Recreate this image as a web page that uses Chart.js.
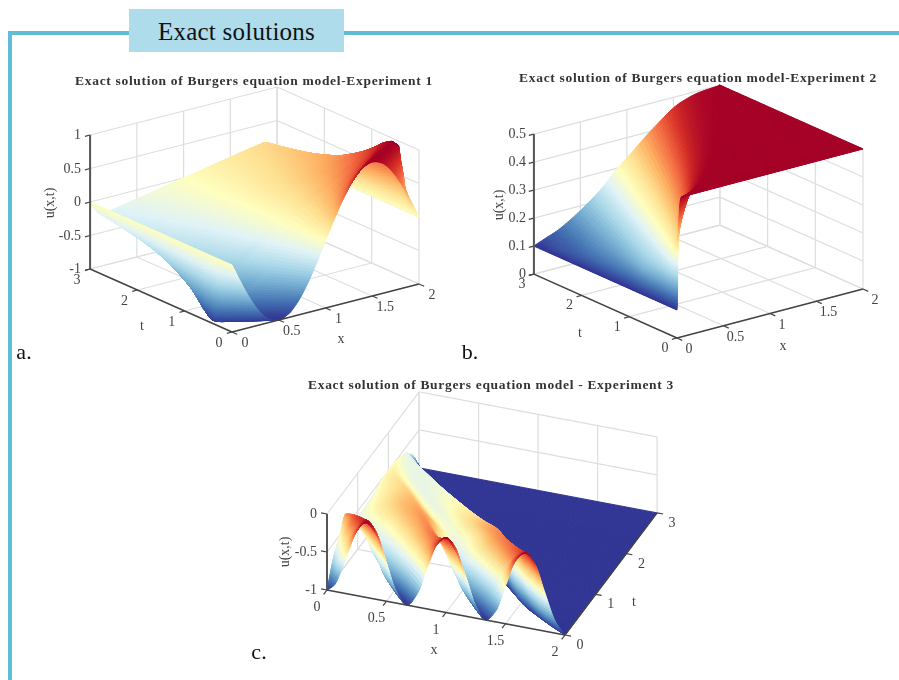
<!DOCTYPE html>
<html><head><meta charset="utf-8">
<script src="https://cdn.jsdelivr.net/npm/chart.js@4"></script>
<style>
html,body{margin:0;padding:0;background:#fff;width:899px;height:680px;overflow:hidden}
#wrap{position:relative;width:899px;height:680px;font-family:"Liberation Serif",serif}
canvas{position:absolute;left:0;top:0;filter:blur(.35px)}
.bar{position:absolute;background:#5fbdd8}
#head{position:absolute;left:129px;top:9px;width:215px;height:43px;background:#aedcea;color:#111;font-size:25px;line-height:46px;text-align:center;letter-spacing:.25px}
.t{position:absolute;white-space:nowrap;color:#444;font-size:14px;transform:translate(-50%,-50%)}
.r{transform:translate(-100%,-50%)}
.ttl{font-weight:bold;color:#333;font-size:13.5px;letter-spacing:.68px}
.pl{color:#111;font-size:22px}
.rot{transform:translate(-50%,-50%) rotate(-90deg)}
</style></head><body>
<div id="wrap">
<div class="bar" style="left:8px;top:31px;width:121px;height:4px"></div>
<div class="bar" style="left:344px;top:31px;width:555px;height:4px"></div>
<div class="bar" style="left:8px;top:31px;width:4px;height:649px"></div>
<div id="head">Exact solutions</div>
<canvas id="c" width="899" height="680"></canvas>
</div>
<script>
// ---------- tick labels ----------
const xTicks=[0,0.5,1,1.5,2];
const tTicks=[0,1,2,3];
const zTicksA=[-1,-0.5,0,0.5,1];
const zTicksB=[0,0.1,0.2,0.3,0.4,0.5];
const zTicksC=[-1,-0.5,0];
const titles=["Exact solution of Burgers equation model-Experiment 1","Exact solution of Burgers equation model-Experiment 2","Exact solution of Burgers equation model - Experiment 3"];
// ---------- colour ramp ----------
const ramp=["#313695","#4575b4","#74add1","#abd9e9","#e0f3f8","#ffffbf","#fee090","#fdae61","#f46d43","#d73027","#a50026"];

// ---------- Experiment 1: surface rows ----------
const aT=[0,0.1,0.2,0.3,0.4,0.5,0.65,0.8,1,1.25,1.5,2,2.5,3];
const aX=[
[0,.1,.2,.3,.4,.5,.6,.7,.8,.9,1,1.1,1.2,1.3,1.4,1.5,1.6,1.7,1.8,1.9,2],
[0,.069,.141,.219,.305,.4,.505,.619,.741,.869,1,1.131,1.259,1.381,1.495,1.6,1.695,1.781,1.859,1.931,2],
[0,.038,.082,.138,.21,.3,.41,.538,.682,.838,1,1.162,1.318,1.462,1.59,1.7,1.79,1.862,1.918,1.962,2],
[0,.007,.024,.057,.115,.2,.315,.457,.624,.807,1,1.193,1.376,1.543,1.685,1.8,1.885,1.943,1.976,1.993,2],
[0,.004,.008,.012,.02,.1,.22,.376,.565,.776,1,1.224,1.435,1.624,1.78,1.9,1.98,1.988,1.992,1.996,2],
[0,.006,.012,.018,.024,.04,.125,.295,.506,.745,1,1.255,1.494,1.705,1.875,1.96,1.976,1.982,1.988,1.994,2],
[0,.012,.025,.037,.045,.05,.174,.418,.56,.70,1,1.30,1.44,1.582,1.826,1.95,1.955,1.963,1.975,1.988,2],
[0,.015,.03,.045,.054,.06,.15,.33,.49,.653,1,1.347,1.51,1.67,1.85,1.94,1.946,1.955,1.97,1.985,2],
[0,.02,.04,.06,.072,.08,.212,.40,.591,.80,1,1.2,1.409,1.6,1.788,1.92,1.928,1.94,1.96,1.98,2],
[0,.022,.045,.068,.08,.09,.25,.43,.62,.81,1,1.19,1.38,1.57,1.75,1.91,1.92,1.932,1.955,1.978,2],
[0,.025,.05,.075,.09,.1,.28,.46,.64,.82,1,1.18,1.36,1.54,1.72,1.90,1.91,1.925,1.95,1.975,2],
[0,.03,.06,.09,.108,.12,.30,.47,.65,.82,1,1.18,1.35,1.53,1.70,1.88,1.892,1.91,1.94,1.97,2],
[0,.034,.068,.10,.12,.135,.31,.48,.65,.83,1,1.17,1.35,1.52,1.69,1.865,1.88,1.90,1.932,1.966,2],
[0,.037,.075,.11,.135,.15,.32,.49,.66,.83,1,1.17,1.34,1.51,1.68,1.85,1.865,1.89,1.925,1.963,2]];
const aU=[
[0,-.309,-.588,-.809,-.951,-1,-.951,-.809,-.588,-.309,0,.309,.588,.809,.951,1,.951,.809,.588,.309,0],
[0,-.309,-.588,-.809,-.951,-1,-.951,-.809,-.588,-.309,0,.309,.588,.809,.951,1,.951,.809,.588,.309,0],
[0,-.309,-.588,-.809,-.951,-1,-.951,-.809,-.588,-.309,0,.309,.588,.809,.951,1,.951,.809,.588,.309,0],
[0,-.309,-.588,-.809,-.951,-1,-.951,-.809,-.588,-.309,0,.309,.588,.809,.951,1,.951,.809,.588,.309,0],
[0,-.3,-.6,-.82,-.95,-1,-.951,-.809,-.588,-.309,0,.309,.588,.809,.951,1,.95,.82,.6,.3,0],
[0,-.3,-.6,-.8,-.94,-.985,-.951,-.809,-.588,-.309,0,.309,.588,.809,.951,.985,.94,.8,.6,.3,0],
[0,-.41,-.74,-.87,-.91,-.92,-.81,-.588,-.45,-.309,0,.309,.45,.588,.81,.92,.91,.87,.74,.41,0],
[0,-.37,-.66,-.78,-.81,-.82,-.74,-.588,-.45,-.309,0,.309,.45,.588,.74,.82,.81,.78,.66,.37,0],
[0,-.32,-.56,-.665,-.69,-.70,-.588,-.45,-.309,-.15,0,.15,.309,.45,.588,.70,.69,.665,.56,.32,0],
[0,-.26,-.46,-.55,-.575,-.58,-.48,-.37,-.24,-.12,0,.12,.24,.37,.48,.58,.575,.55,.46,.26,0],
[0,-.22,-.38,-.455,-.475,-.48,-.39,-.30,-.20,-.10,0,.10,.20,.30,.39,.48,.475,.455,.38,.22,0],
[0,-.16,-.29,-.34,-.355,-.36,-.29,-.22,-.15,-.075,0,.075,.15,.22,.29,.36,.355,.34,.29,.16,0],
[0,-.125,-.225,-.265,-.277,-.28,-.225,-.17,-.115,-.055,0,.055,.115,.17,.225,.28,.277,.265,.225,.125,0],
[0,-.10,-.176,-.21,-.218,-.22,-.18,-.135,-.09,-.045,0,.045,.09,.135,.18,.22,.218,.21,.176,.10,0]];

// ---------- Experiment 2 ----------
const bT=[0,0.1,0.25,0.5,0.75,1,1.5,2,2.5,3];
const bLevels=[.1,.115,.133,.183,.25,.3,.327,.41,.474,.494,.499,.5];
const bX=[
[0,.002,.004,.006,.008,.01,.012,.02,.03,.04,.05,2],
[0,.001,.002,.003,.006,.03,.048,.101,.153,.193,.231,2],
[0,.002,.004,.01,.033,.075,.104,.188,.269,.332,.393,2],
[0,.003,.008,.02,.091,.15,.191,.309,.423,.513,.599,2],
[0,.005,.012,.03,.153,.225,.275,.42,.56,.67,.775,2],
[0,.01,.025,.069,.216,.3,.358,.525,.687,.814,.935,2],
[0,.015,.04,.167,.347,.45,.521,.726,.924,1.079,1.228,2],
[0,.02,.07,.274,.482,.6,.682,.918,1.147,1.326,1.498,2],
[0,.029,.157,.385,.618,.75,.841,1.106,1.362,1.563,1.754,2],
[0,.11,.25,.5,.755,.9,1.0,1.29,1.57,1.79,1.99,2]];

// ---------- Experiment 3 ----------
const cT=[0,0.1,0.2,0.3,0.45,0.6,0.8,1.1,1.5,2,2.5,2.7,3];
const cX=[
[0,.06,.12,.18,.24,.33,.42,.5,.58,.67,.76,.85,.92,1,1.08,1.17,1.25,1.33,1.42,1.5,1.58,1.67,1.75,1.83,1.92,2,2],
[0,.03,.07,.15,.23,.31,.38,.44,.5,.60,.69,.81,.90,.98,1.05,1.11,1.17,1.26,1.35,1.46,1.56,1.65,1.7,1.74,1.8,1.9,2],
[0,.02,.06,.12,.2,.26,.32,.37,.43,.53,.62,.74,.85,.91,.97,1.03,1.09,1.19,1.29,1.42,1.54,1.6,1.63,1.66,1.71,1.8,2],
[0,.02,.05,.09,.14,.19,.25,.31,.37,.46,.55,.67,.78,.84,.9,.96,1.03,1.12,1.22,1.35,1.47,1.54,1.56,1.585,1.63,1.7,2],
[0,.015,.03,.05,.07,.09,.15,.21,.27,.36,.45,.57,.69,.76,.82,.88,.94,1.02,1.12,1.25,1.37,1.44,1.46,1.475,1.5,1.56,2],
[0,0,0,0,0,.005,.07,.14,.21,.29,.38,.49,.61,.69,.75,.81,.88,.96,1.05,1.16,1.27,1.34,1.36,1.375,1.4,1.46,2],
[0,0,0,0,0,0,0,.03,.1,.18,.28,.4,.52,.6,.67,.74,.82,.9,1.0,1.09,1.17,1.23,1.25,1.265,1.285,1.32,2],
[0,0,0,0,0,0,0,0,0,0,.1,.23,.36,.46,.53,.6,.68,.76,.83,.9,.97,1.03,1.045,1.06,1.08,1.11,2],
[0,0,0,0,0,0,0,0,0,0,.05,.13,.21,.28,.34,.4,.47,.54,.6,.66,.72,.77,.785,.8,.815,.84,2],
[0,0,0,0,0,0,0,0,0,0,0,.01,.03,.05,.1,.16,.22,.27,.31,.35,.39,.42,.435,.45,.465,.49,2],
[0,0,0,0,0,0,0,0,0,0,0,0,0,0,0,0,0,.01,.03,.05,.065,.08,.09,.1,.115,.14,2],
[0,0,0,0,0,0,0,0,0,0,0,0,0,0,0,0,0,0,0,0,0,0,0,0,.006,.015,2],
[0,0,0,0,0,0,0,0,0,0,0,0,0,0,0,0,0,0,0,0,0,0,0,0,0,.01,2]];
const cU=[
[-1,-.92,-.71,-.44,-.18,-.02,-.16,-.5,-.84,-1,-.82,-.42,-.14,-.02,-.16,-.5,-.84,-1,-.85,-.5,-.16,-.02,-.15,-.49,-.85,-1,-1],
[-.85,-.78,-.62,-.4,-.18,-.05,-.16,-.45,-.8,-.98,-.8,-.42,-.16,-.08,-.18,-.46,-.8,-.98,-.82,-.48,-.17,-.07,-.2,-.5,-.85,-1,-1],
[-.7,-.65,-.55,-.4,-.2,-.1,-.2,-.45,-.78,-.93,-.78,-.45,-.22,-.16,-.25,-.48,-.78,-.93,-.78,-.48,-.2,-.13,-.25,-.5,-.85,-1,-1],
[-.6,-.56,-.48,-.36,-.22,-.14,-.24,-.46,-.72,-.87,-.74,-.48,-.28,-.21,-.3,-.5,-.73,-.87,-.74,-.46,-.24,-.17,-.3,-.55,-.85,-1,-1],
[-.47,-.44,-.4,-.34,-.28,-.22,-.3,-.46,-.66,-.78,-.68,-.48,-.31,-.24,-.32,-.48,-.66,-.78,-.66,-.44,-.27,-.21,-.3,-.5,-.8,-1,-1],
[-.33,-.33,-.33,-.33,-.33,-.33,-.4,-.5,-.6,-.67,-.6,-.46,-.33,-.26,-.34,-.46,-.58,-.66,-.56,-.42,-.29,-.24,-.32,-.52,-.8,-1,-1],
[-.5,-.5,-.5,-.5,-.5,-.5,-.5,-.54,-.57,-.59,-.54,-.42,-.32,-.28,-.33,-.42,-.52,-.58,-.5,-.4,-.3,-.27,-.35,-.55,-.8,-1,-1],
[-.58,-.58,-.58,-.58,-.58,-.58,-.58,-.58,-.58,-.58,-.5,-.42,-.35,-.32,-.38,-.46,-.52,-.55,-.5,-.43,-.39,-.37,-.45,-.62,-.85,-1,-1],
[-.56,-.56,-.56,-.56,-.56,-.56,-.56,-.56,-.56,-.56,-.5,-.45,-.41,-.39,-.44,-.5,-.55,-.57,-.54,-.51,-.49,-.48,-.55,-.68,-.86,-1,-1],
[-.5,-.5,-.5,-.5,-.5,-.5,-.5,-.5,-.5,-.5,-.5,-.49,-.48,-.47,-.5,-.54,-.57,-.58,-.575,-.57,-.565,-.56,-.62,-.74,-.88,-1,-1],
[-.56,-.56,-.56,-.56,-.56,-.56,-.56,-.56,-.56,-.56,-.56,-.56,-.56,-.56,-.56,-.56,-.56,-.56,-.57,-.58,-.59,-.6,-.68,-.8,-.92,-1,-1],
[-.67,-.67,-.67,-.67,-.67,-.67,-.67,-.67,-.67,-.67,-.67,-.67,-.67,-.67,-.67,-.67,-.67,-.67,-.67,-.67,-.67,-.67,-.67,-.67,-.85,-1,-1],
[-.97,-.97,-.97,-.97,-.97,-.97,-.97,-.97,-.97,-.97,-.97,-.97,-.97,-.97,-.97,-.97,-.97,-.97,-.97,-.97,-.97,-.97,-.97,-.97,-.97,-1,-1]];

// ---------- panels ----------
const panels=[
 {o:[232,332],ax:[93.5,-24],at:[-47.3,-21],az:-67,z0:-1,zTop:1,zT:zTicksA,ts:aT,xs:aX,us:aU,lo:-1,hi:1,back:'right',sc:8,sr:8,
  zAxis:[0,3],tickX:-0.055,lab:{z:[81,0],t:[-13,11],x:[13,11]},tl:[254,81],tLab:[142,326],xLab:[341,339],uLab:[50,203],name:['a.',24,352]},
 {o:[677,338],ax:[93,-24.5],at:[-47.7,-21.3],az:-280,z0:0,zTop:.5,zT:zTicksB,ts:bT,xs:bX,us:bT.map(()=>bLevels),lo:.1,hi:.5,back:'right',sc:10,sr:8,
  zAxis:[0,3],tickX:-0.055,lab:{z:[526,0],t:[-12,10],x:[12,11]},tl:[698,78],tLab:[580,333],xLab:[783,346],uLab:[499,205],name:['b.',470,352]},
 {o:[327,590],ax:[119,22.5],at:[30.7,-40.7],az:-76,z0:-1,zTop:0,zT:zTicksC,ts:cT,xs:cX,us:cU,lo:-1,hi:-.02,back:'left',sc:8,sr:8,
  zAxis:[0,0],tickX:-0.05,lab:{z:[317,0],t:[15,10],x:[-10,17]},tl:[491,385],tLab:[634,602],xLab:[434,650],uLab:[285,552],name:['c.',259,652]}
];
const proj=(p,x,t,z)=>({x:p.o[0]+x*p.ax[0]+t*p.at[0],y:p.o[1]+x*p.ax[1]+t*p.at[1]+(z-p.z0)*p.az});

// ---------- build datasets ----------
const GRID='#dedede',AXIS='#444444';
const datasets=[];
function seg(p,a,b,color,w,order){datasets.push({data:[proj(p,...a),proj(p,...b)],showLine:true,borderColor:color,borderWidth:w,pointRadius:0,order});}
panels.forEach((p,pi)=>{
 const zb=p.z0,zt=p.zTop,bx=p.back==='right'?2:0;
 p.zT.forEach(z=>{seg(p,[0,3,z],[2,3,z],GRID,1.2,3);seg(p,[bx,3,z],[bx,0,z],GRID,1.2,3);});
 xTicks.forEach(x=>{seg(p,[x,3,zb],[x,3,zt],GRID,1.2,3);seg(p,[x,0,zb],[x,3,zb],GRID,1.2,3);});
 tTicks.forEach(t=>{seg(p,[bx,t,zb],[bx,t,zt],GRID,1.2,3);seg(p,[0,t,zb],[2,t,zb],GRID,1.2,3);});
 const nodes=[];
 p.ts.forEach((t,r)=>p.xs[r].forEach((x,c)=>nodes.push(proj(p,x,t,p.us[r][c]))));
 datasets.push({data:nodes,showLine:false,pointRadius:0,order:2,surface:pi});
 const tAxisX=p.back==='right'?0:2;
 seg(p,[0,0,zb],[2,0,zb],AXIS,1.4,1);
 seg(p,[tAxisX,0,zb],[tAxisX,3,zb],AXIS,1.4,1);
 seg(p,[p.zAxis[0],p.zAxis[1],zb],[p.zAxis[0],p.zAxis[1],zt],'#555555',2,1);
 const tOut=p.back==='right'?-0.055:0.05;
 const xOut=-0.11;
 xTicks.forEach(x=>seg(p,[x,0,zb],[x,xOut,zb],AXIS,1.2,1));
 tTicks.forEach(t=>seg(p,[tAxisX,t,zb],[tAxisX+tOut,t,zb],AXIS,1.2,1));
 p.zT.forEach(z=>seg(p,[p.zAxis[0],p.zAxis[1],z],[p.zAxis[0]+p.tickX,p.zAxis[1],z],AXIS,1.2,1));
});

// ---------- drawing helpers (render-only smoothing between table nodes) ----------
function mono(v,sub){
 const n=v.length,d=[],m=[],out=[];
 for(let i=0;i<n-1;i++)d.push(v[i+1]-v[i]);
 for(let i=0;i<n;i++){
  if(i===0)m.push(d[0]);else if(i===n-1)m.push(d[n-2]);
  else m.push(d[i-1]*d[i]<=0?0:2*d[i-1]*d[i]/(d[i-1]+d[i]));
 }
 for(let i=0;i<n-1;i++)for(let k=0;k<sub;k++){
  const s=k/sub,s2=s*s,s3=s2*s;
  out.push((2*s3-3*s2+1)*v[i]+(s3-2*s2+s)*m[i]+(-2*s3+3*s2)*v[i+1]+(s3-s2)*m[i+1]);
 }
 out.push(v[n-1]);return out;
}
function hex(c){return [1,3,5].map(i=>parseInt(c.substr(i,2),16));}
const rampRGB=ramp.map(hex);
function col(v){
 v=Math.max(0,Math.min(1,v))*(rampRGB.length-1);
 const i=Math.min(rampRGB.length-2,Math.floor(v)),f=v-i,a=rampRGB[i],b=rampRGB[i+1];
 return `rgb(${a[0]+(b[0]-a[0])*f|0},${a[1]+(b[1]-a[1])*f|0},${a[2]+(b[2]-a[2])*f|0})`;
}
const surfacePlugin={id:'surface',afterDatasetDraw(chart,args){
 const ds=chart.data.datasets[args.index];
 if(ds.surface===undefined)return;
 const p=panels[ds.surface],sx=chart.scales.x,sy=chart.scales.y,ctx=chart.ctx;
 const Xr=p.xs.map(r=>mono(r,p.sc)),Ur=p.us.map(r=>mono(r,p.sc));
 const nc=Xr[0].length,Tf=mono(p.ts,p.sr),nr=Tf.length;
 const Px=[],Py=[],Uf=[];
 for(let j=0;j<nc;j++){
  const xc=mono(Xr.map(r=>r[j]),p.sr),uc=mono(Ur.map(r=>r[j]),p.sr);
  Px.push([]);Py.push([]);Uf.push(uc);
  for(let i=0;i<nr;i++){const q=proj(p,xc[i],Tf[i],uc[i]);Px[j].push(sx.getPixelForValue(q.x));Py[j].push(sy.getPixelForValue(q.y));}
 }
 ctx.save();ctx.lineWidth=1;ctx.lineJoin='round';
 const cols=[];for(let j=0;j<nc-1;j++)cols.push(j);
 if(p.back==='right')cols.reverse();
 for(let i=nr-2;i>=0;i--)for(const j of cols){
  const u=(Uf[j][i]+Uf[j+1][i]+Uf[j][i+1]+Uf[j+1][i+1])/4,c=col((u-p.lo)/(p.hi-p.lo));
  ctx.fillStyle=c;ctx.strokeStyle=c;ctx.beginPath();
  ctx.moveTo(Px[j][i],Py[j][i]);ctx.lineTo(Px[j+1][i],Py[j+1][i]);ctx.lineTo(Px[j+1][i+1],Py[j+1][i+1]);ctx.lineTo(Px[j][i+1],Py[j][i+1]);
  ctx.closePath();ctx.fill();ctx.stroke();
 }
 ctx.restore();
}};

new Chart(document.getElementById('c'),{type:'scatter',data:{datasets},plugins:[surfacePlugin],options:{
 responsive:false,animation:false,devicePixelRatio:1,layout:{padding:0},
 plugins:{legend:{display:false},tooltip:{enabled:false},title:{display:false}},
 scales:{x:{type:'linear',min:0,max:899,display:false},y:{type:'linear',min:0,max:680,reverse:true,display:false}},
 elements:{line:{tension:0}}
}});

// ---------- text ----------
const wrap=document.getElementById('wrap');
function lab(txt,x,y,cls){const d=document.createElement('div');d.className='t '+(cls||'');d.textContent=txt;d.style.left=x+'px';d.style.top=y+'px';wrap.appendChild(d);}
panels.forEach((p,i)=>{
 lab(titles[i],p.tl[0],p.tl[1],'ttl');
 lab(p.name[0],p.name[1],p.name[2],'pl');
 p.zT.forEach(z=>{const q=proj(p,p.zAxis[0],p.zAxis[1],z);lab(String(z),p.lab.z[0],q.y,'r');});
 const tAxisX=p.back==='right'?0:2;
 tTicks.forEach(t=>{const q=proj(p,tAxisX,t,p.z0);lab(String(t),q.x+p.lab.t[0],q.y+p.lab.t[1]);});
 xTicks.forEach(x=>{const q=proj(p,x,0,p.z0);lab(String(x),q.x+p.lab.x[0],q.y+p.lab.x[1]);});
 lab('t',p.tLab[0],p.tLab[1]);lab('x',p.xLab[0],p.xLab[1]);lab('u(x,t)',p.uLab[0],p.uLab[1],'rot');
});
</script>
</body></html>
